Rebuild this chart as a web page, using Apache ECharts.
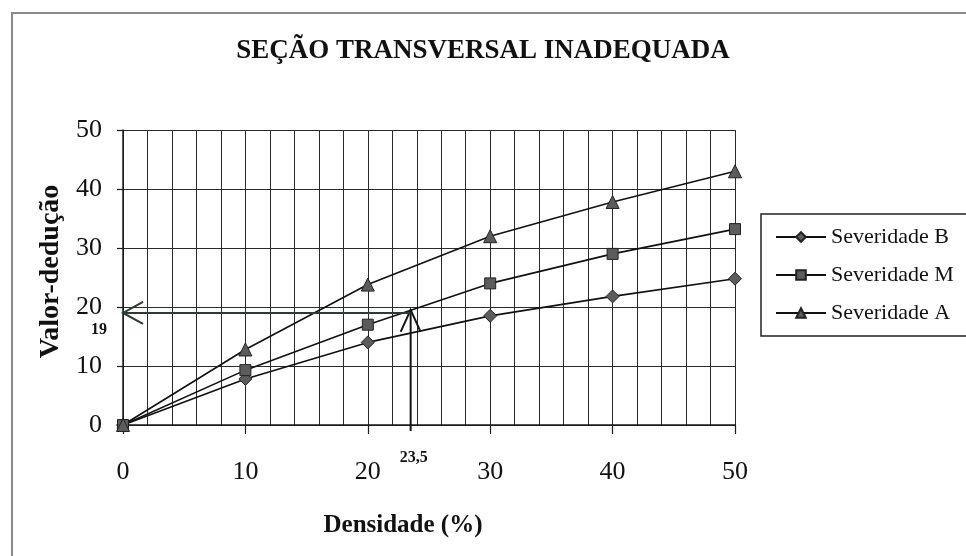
<!DOCTYPE html>
<html>
<head>
<meta charset="utf-8">
<script src="https://cdn.jsdelivr.net/npm/echarts@6/dist/echarts.min.js"></script>
<style>
  html, body { margin: 0; padding: 0; background: #fff; }
  #chart { width: 966px; height: 556px; }
</style>
</head>
<body>
<div id="chart"></div>
<script>
// Deduction values per density, one list per severity level
const densidade = [0, 10, 20, 30, 40, 50];
const severidadeB = [0, 7.8, 14, 18.5, 21.8, 24.8];
const severidadeM = [0, 9.3, 17, 24, 29, 33.2];
const severidadeA = [0, 12.8, 23.8, 32, 37.8, 43];
const nomesSeries = ['Severidade B', 'Severidade M', 'Severidade A'];

// Reading example: density 23,5 % gives deduction value 19
const leitura = [23.5, 19];

const SERIF = '"Liberation Serif", "DejaVu Serif", serif';
const INK = '#1a1a1a';

function pares(valores) {
  return densidade.map((d, i) => [d, valores[i]]);
}

function serieLinha(nome, valores, simbolo, tamanho) {
  return {
    name: nome,
    type: 'line',
    data: pares(valores),
    symbol: simbolo,
    symbolSize: tamanho,
    showSymbol: true,
    lineStyle: { color: '#111', width: 1.6 },
    itemStyle: { color: '#5c5c5c', borderColor: '#222', borderWidth: 1 },
    z: 3
  };
}

const chart = echarts.init(document.getElementById('chart'));

chart.setOption({
  animation: false,
  backgroundColor: '#fff',
  graphic: [{
    type: 'rect',
    shape: { x: 12, y: 13, width: 1000, height: 600 },
    style: { stroke: '#8a8a8a', lineWidth: 2, fill: 'none' },
    silent: true
  }],
  title: {
    text: 'SEÇÃO TRANSVERSAL INADEQUADA',
    left: 'center',
    top: 33,
    textStyle: { fontFamily: SERIF, fontWeight: 'bold', fontSize: 27, color: '#111' }
  },
  legend: {
    data: nomesSeries,
    orient: 'vertical',
    left: 761,
    top: 214,
    padding: [12, 40, 12, 14],
    itemGap: 16,
    itemWidth: 50,
    itemHeight: 12,
    borderColor: '#222',
    borderWidth: 1.5,
    textStyle: { fontFamily: SERIF, fontSize: 22, color: '#111' }
  },
  grid: { left: 123, right: 231, top: 130, bottom: 131, containLabel: false },
  xAxis: {
    type: 'value',
    min: 0,
    max: 50,
    interval: 10,
    name: 'Densidade (%)',
    nameLocation: 'middle',
    nameGap: 88,
    nameTextStyle: { fontFamily: SERIF, fontWeight: 'bold', fontSize: 25, color: '#111', padding: [0, 52, 0, 0] },
    axisLine: { show: true, lineStyle: { color: INK, width: 1.5 } },
    axisTick: { show: true, inside: false, length: 9, lineStyle: { color: INK, width: 1.2 } },
    axisLabel: { fontFamily: SERIF, fontSize: 26, color: '#111', margin: 34 },
    splitLine: { show: true, lineStyle: { color: '#2a2a2a', width: 1 } },
    minorTick: { show: false, splitNumber: 5 },
    minorSplitLine: { show: true, lineStyle: { color: '#2a2a2a', width: 1 } }
  },
  yAxis: {
    type: 'value',
    min: 0,
    max: 50,
    interval: 10,
    name: 'Valor-dedução',
    nameLocation: 'middle',
    nameGap: 58,
    nameTextStyle: { fontFamily: SERIF, fontWeight: 'bold', fontSize: 28, color: '#111', padding: [0, 0, 0, 12] },
    axisLine: { show: true, lineStyle: { color: INK, width: 1.5 } },
    axisTick: { show: true, inside: false, length: 6, lineStyle: { color: INK, width: 1.2 } },
    axisLabel: { fontFamily: SERIF, fontSize: 26, color: '#111', margin: 21 },
    splitLine: { show: true, lineStyle: { color: '#2a2a2a', width: 1 } }
  },
  series: [
    serieLinha(nomesSeries[0], severidadeB, 'diamond', 13),
    serieLinha(nomesSeries[1], severidadeM, 'rect', 11),
    serieLinha(nomesSeries[2], severidadeA, 'triangle', 13),
    {
      // Reading arrows: up from the density, then left to the deduction axis
      type: 'custom',
      name: 'leitura',
      clip: false,
      silent: true,
      z: 4,
      data: [leitura],
      renderItem(params, api) {
        const x = api.value(0);
        const y = api.value(1);
        const ponto = api.coord([x, y]);
        const base = api.coord([x, 0]);
        const eixo = api.coord([0, y]);
        const traco = { stroke: '#151515', lineWidth: 2, fill: null };
        const tracoH = { stroke: '#2e3b33', lineWidth: 2, fill: null };
        const topo = ponto[1] - 3;
        return {
          type: 'group',
          children: [
            { type: 'line', shape: { x1: ponto[0], y1: base[1] + 6, x2: ponto[0], y2: topo }, style: traco },
            { type: 'polyline', shape: { points: [[ponto[0] - 10, topo + 22], [ponto[0], topo], [ponto[0] + 10, topo + 22]] }, style: traco },
            { type: 'line', shape: { x1: ponto[0], y1: ponto[1], x2: eixo[0], y2: eixo[1] }, style: tracoH },
            { type: 'polyline', shape: { points: [[eixo[0] + 20, eixo[1] - 11], [eixo[0], eixo[1]], [eixo[0] + 20, eixo[1] + 11]] }, style: tracoH },
            { type: 'text', style: { text: String(y), x: eixo[0] - 16, y: eixo[1] + 17, align: 'right', verticalAlign: 'middle', font: 'bold 16px ' + SERIF, fill: '#111' } },
            { type: 'text', style: { text: String(x).replace('.', ','), x: ponto[0] + 3, y: base[1] + 33, align: 'center', verticalAlign: 'middle', font: 'bold 16px ' + SERIF, fill: '#111' } }
          ]
        };
      }
    }
  ]
});
</script>
</body>
</html>
